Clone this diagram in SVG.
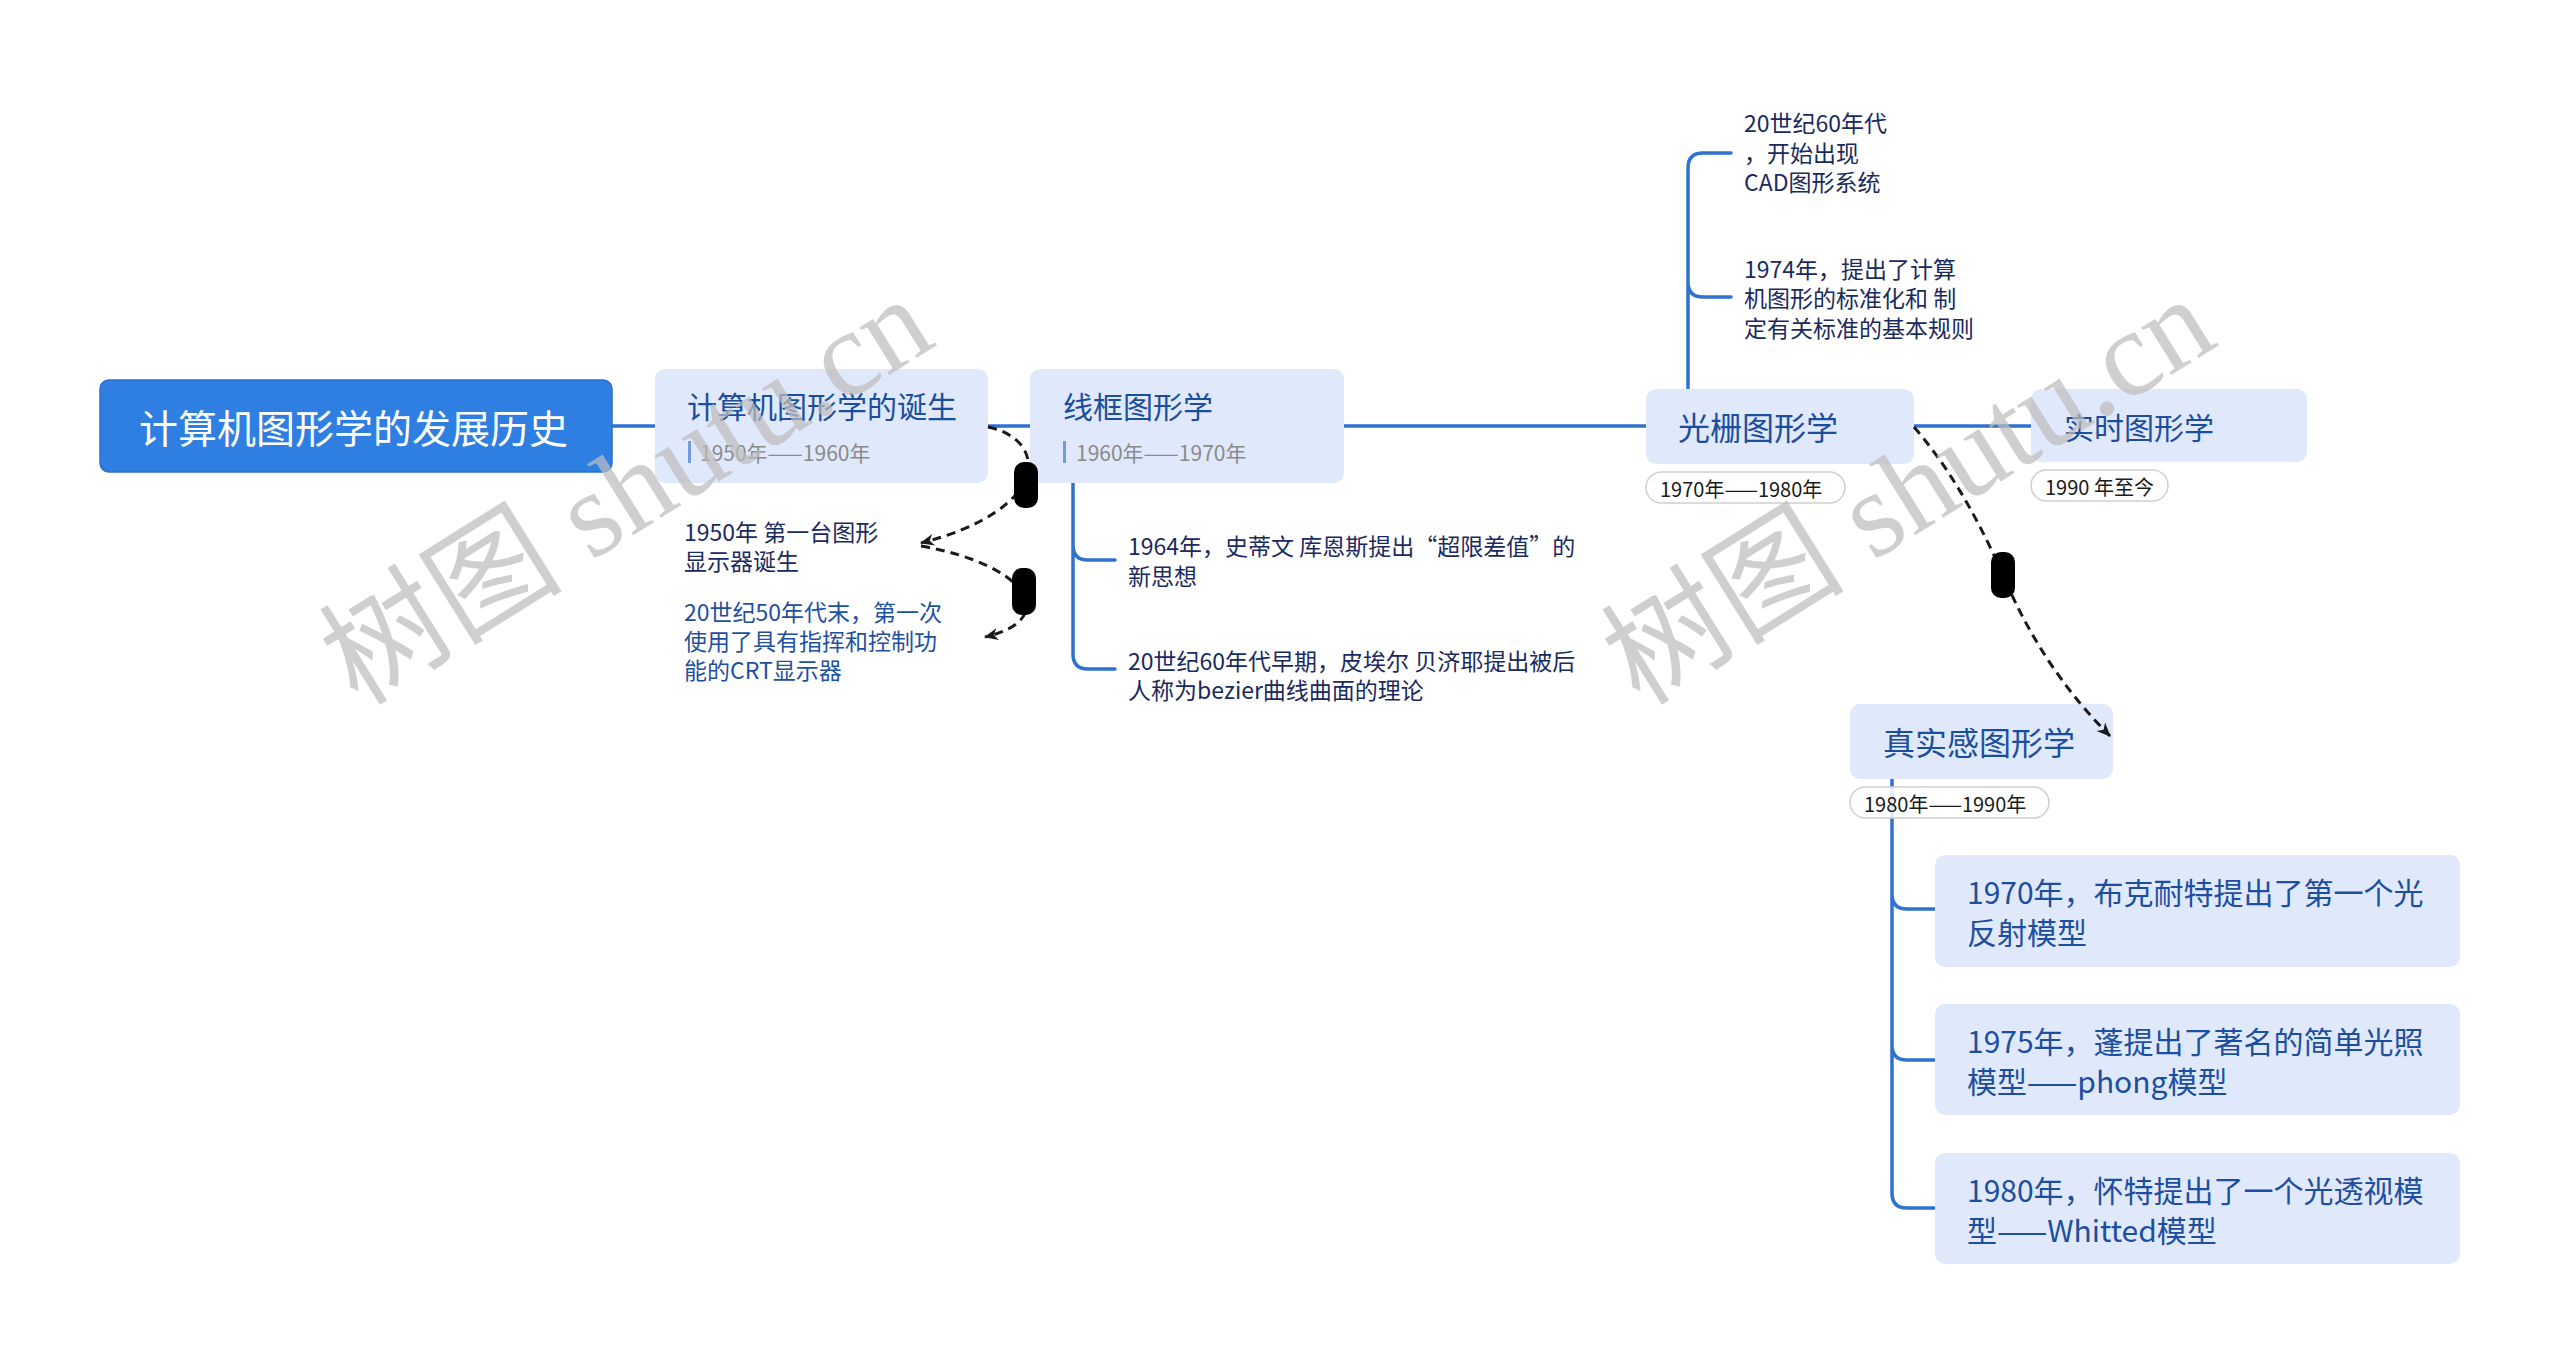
<svg xmlns="http://www.w3.org/2000/svg" width="2560" height="1363" viewBox="0 0 2560 1363">
<defs>
<style>
.t{font-family:"Noto Sans CJK SC","Microsoft YaHei",sans-serif;dominant-baseline:central}
.box{fill:#e0e8fb}
.title{fill:#1b4f9e}
.sub{fill:#8a8a8a;font-size:21px}
.bar{fill:#6f9be0}
.leaf{fill:#1b2a5e;font-size:23px}
.leafb{fill:#1f50a0;font-size:23px}
.big{fill:#1d4fa0;font-size:30px}
.pill{fill:#ffffff;fill-opacity:0.85;stroke:#cfcfcf;stroke-width:1.5}
.ptxt{fill:#1a1a1a;font-size:20px}
.conn{fill:none;stroke:#2f72d0;stroke-width:3.5;stroke-linecap:round}
.rel{fill:none;stroke:#1a1a1a;stroke-width:3;stroke-dasharray:9 6}
.lbl{fill:#000000}
.wm{font-family:"Liberation Serif","Noto Sans CJK SC",serif;font-size:122px;fill:#bdbdbd;fill-opacity:0.72}
</style>
<marker id="arr" markerWidth="16" markerHeight="16" viewBox="0 0 16 16" refX="13" refY="8" orient="auto" markerUnits="userSpaceOnUse">
<path d="M0,2 L14,8 L0,14 L4,8 Z" fill="#1a1a1a"/>
</marker>
</defs>
<rect width="2560" height="1363" fill="#ffffff"/>

<g id="connectors">
<path class="conn" d="M612 426 H655"/>
<path class="conn" d="M988 426 H1030"/>
<path class="conn" d="M1344 426 H1646"/>
<path class="conn" d="M1914 426 H2031"/>
<path class="conn" d="M1073 483 V654 Q1073 669 1088 669 H1115 M1073 545 Q1073 560 1088 560 H1115"/>
<path class="conn" d="M1688 389 V168 Q1688 153 1703 153 H1731 M1688 282 Q1688 297 1703 297 H1731"/>
<path class="conn" d="M1892 779 V1193 Q1892 1208 1907 1208 H1935 M1892 894 Q1892 909 1907 909 H1935 M1892 1045 Q1892 1060 1907 1060 H1935"/>
</g>

<g id="root">
<rect x="100" y="380" width="512" height="92" rx="9" fill="#2f7fe3" stroke="#2a6fd0" stroke-width="1.5"/>
<text class="t" x="139" y="426" font-size="39" fill="#ffffff">计算机图形学的发展历史</text>
</g>

<g id="n1">
<rect class="box" x="655" y="369" width="333" height="114" rx="10"/>
<text class="t title" x="687" y="405" font-size="30">计算机图形学的诞生</text>
<rect class="bar" x="688" y="441" width="3" height="22"/>
<text class="t sub" x="700" y="452">1950年——1960年</text>
</g>
<g id="n1c1">
<text class="t leaf" x="684" y="531">1950年 第一台图形</text>
<text class="t leaf" x="684" y="560">显示器诞生</text>
</g>
<g id="n1c2">
<text class="t leafb" x="684" y="611">20世纪50年代末，第一次</text>
<text class="t leafb" x="684" y="640">使用了具有指挥和控制功</text>
<text class="t leafb" x="684" y="669">能的CRT显示器</text>
</g>

<g id="n2">
<rect class="box" x="1030" y="369" width="314" height="114" rx="10"/>
<text class="t title" x="1063" y="405" font-size="30">线框图形学</text>
<rect class="bar" x="1063" y="441" width="3" height="22"/>
<text class="t sub" x="1076" y="452">1960年——1970年</text>
</g>
<g id="n2c1">
<text class="t leaf" x="1128" y="545">1964年，史蒂文 库恩斯提出“超限差值”的</text>
<text class="t leaf" x="1128" y="575">新思想</text>
</g>
<g id="n2c2">
<text class="t leaf" x="1128" y="660">20世纪60年代早期，皮埃尔 贝济耶提出被后</text>
<text class="t leaf" x="1128" y="689">人称为bezier曲线曲面的理论</text>
</g>

<g id="n3">
<rect class="box" x="1646" y="389" width="268" height="75" rx="10"/>
<text class="t title" x="1678" y="426" font-size="32">光栅图形学</text>
<rect class="pill" x="1646" y="472" width="199" height="31" rx="15.5"/>
<text class="t ptxt" x="1660" y="488">1970年——1980年</text>
</g>
<g id="n3c1">
<text class="t leaf" x="1744" y="122">20世纪60年代</text>
<text class="t leaf" x="1744" y="152">，开始出现</text>
<text class="t leaf" x="1744" y="181">CAD图形系统</text>
</g>
<g id="n3c2">
<text class="t leaf" x="1744" y="268">1974年，提出了计算</text>
<text class="t leaf" x="1744" y="297">机图形的标准化和 制</text>
<text class="t leaf" x="1744" y="327">定有关标准的基本规则</text>
</g>

<g id="n4">
<rect class="box" x="2031" y="389" width="276" height="73" rx="10"/>
<text class="t title" x="2064" y="426" font-size="30">实时图形学</text>
<rect class="pill" x="2031" y="470" width="137" height="31" rx="15.5"/>
<text class="t ptxt" x="2045" y="486">1990 年至今</text>
</g>

<g id="n5">
<rect class="box" x="1850" y="704" width="263" height="75" rx="10"/>
<text class="t title" x="1883" y="741" font-size="32">真实感图形学</text>
<rect class="pill" x="1850" y="787" width="199" height="31" rx="15.5"/>
<text class="t ptxt" x="1864" y="803">1980年——1990年</text>
</g>
<g id="n5c1">
<rect class="box" x="1935" y="855" width="525" height="112" rx="10"/>
<text class="t big" x="1967" y="891">1970年，布克耐特提出了第一个光</text>
<text class="t big" x="1967" y="931">反射模型</text>
</g>
<g id="n5c2">
<rect class="box" x="1935" y="1004" width="525" height="111" rx="10"/>
<text class="t big" x="1967" y="1040">1975年，蓬提出了著名的简单光照</text>
<text class="t big" x="1967" y="1080">模型——phong模型</text>
</g>
<g id="n5c3">
<rect class="box" x="1935" y="1153" width="525" height="111" rx="10"/>
<text class="t big" x="1967" y="1189">1980年，怀特提出了一个光透视模</text>
<text class="t big" x="1967" y="1229">型——Whitted模型</text>
</g>

<g id="relations">
<path class="rel" d="M988 427 C1050 440 1050 510 921 543" marker-end="url(#arr)"/>
<path class="rel" d="M921 546 C1030 565 1060 620 985 637" marker-end="url(#arr)"/>
<path class="rel" d="M1914 427 Q1962 482 2003 575 Q2042 668 2110 736" marker-end="url(#arr)"/>
<rect class="lbl" x="1014" y="462" width="24" height="46" rx="10"/>
<rect class="lbl" x="1012" y="568" width="24" height="47" rx="10"/>
<rect class="lbl" x="1991" y="552" width="24" height="46" rx="10"/>
</g>

<g id="watermarks">
<text class="wm" transform="translate(358 707) rotate(-32)">树图 shutu.cn</text>
<text class="wm" transform="translate(1640 707) rotate(-32)">树图 shutu.cn</text>
</g>
</svg>
